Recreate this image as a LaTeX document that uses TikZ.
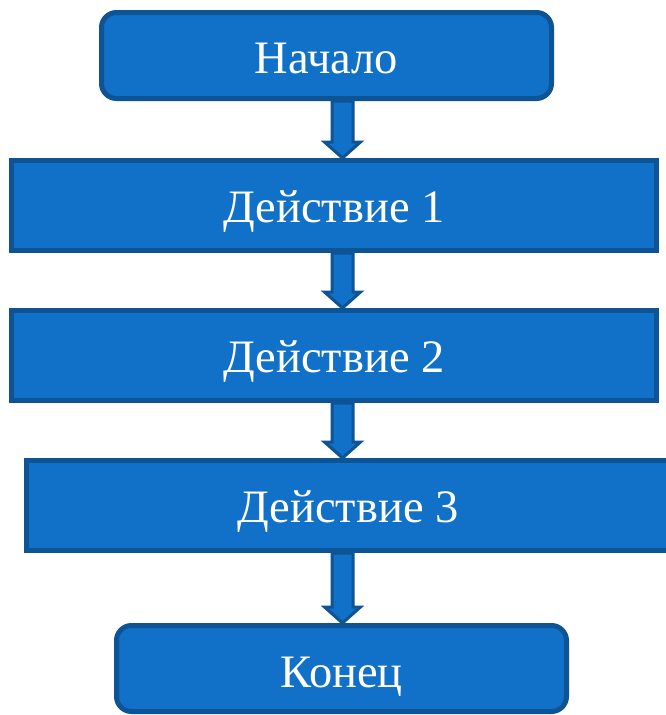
\documentclass[tikz,border=0pt]{standalone}
\usepackage{fontspec}
\setmainfont{Liberation Serif}
\usetikzlibrary{calc}
\definecolor{boxfill}{RGB}{17,112,200}
\definecolor{boxline}{RGB}{14,83,148}
\tikzset{
  blk/.style={draw=boxline, fill=boxfill, line width=5pt, text=white,
    font=\fontsize{46.5}{50}\selectfont, inner sep=0pt, anchor=center,
    text height=34pt, text depth=0pt},
  rblk/.style={blk, rounded corners=15pt},
  barrow/.style={draw=boxline, fill=boxfill, line width=3pt, line join=miter}
}
\newcommand{\blockarrow}[2]{%
  \path[barrow]
    ($(#1.south -| ax)+(-10.5,0)$) -- ($(#2.north -| ax)+(-10.5,-16)$)
    -- ($(#2.north -| ax)+(-18,-16)$) -- (#2.north -| ax)
    -- ($(#2.north -| ax)+(18,-16)$) -- ($(#2.north -| ax)+(10.5,-16)$)
    -- ($(#1.south -| ax)+(10.5,0)$) -- cycle;}
\begin{document}
\begin{tikzpicture}[x=1pt,y=-1pt]
\useasboundingbox[fill=white] (0,0) rectangle (666,715);
\coordinate (ax) at (342.5,0);
\node[rblk, minimum width=450pt, minimum height=86pt, text height=36pt] (s) at (326.5,55.5) {Начало};
\node[blk, minimum width=645pt, minimum height=90pt] (a1) at (334,205.5) {Действие 1};
\node[blk, minimum width=645pt, minimum height=90pt] (a2) at (334,355.5) {Действие 2};
\node[blk, minimum width=643pt, minimum height=90pt] (a3) at (348,505.5) {Действие 3};
\node[rblk, minimum width=450pt, minimum height=86pt, text height=37pt] (e) at (341.5,668.5) {Конец};
\blockarrow{s}{a1}
\blockarrow{a1}{a2}
\blockarrow{a2}{a3}
\blockarrow{a3}{e}
\end{tikzpicture}
\end{document}
